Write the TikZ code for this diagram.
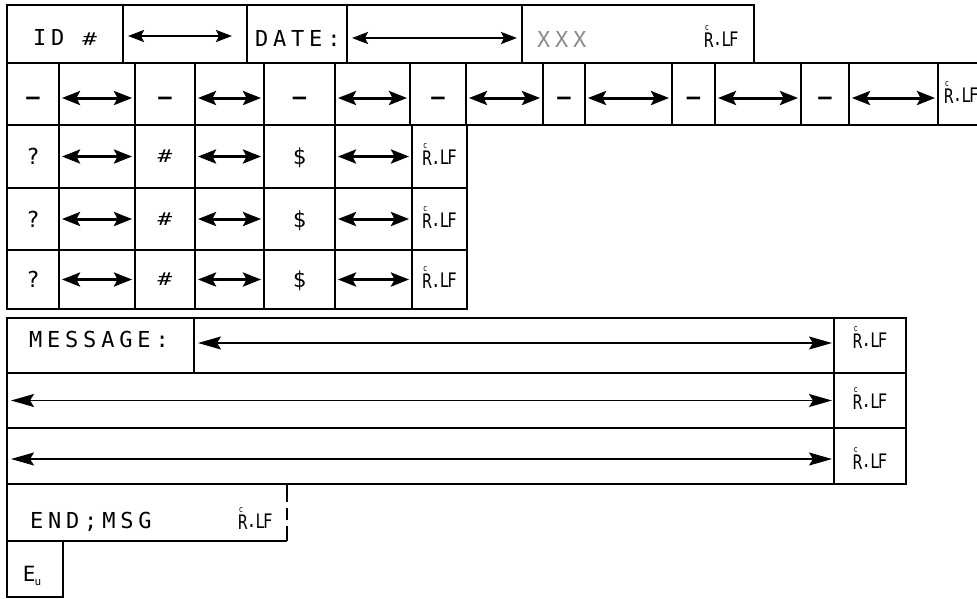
\documentclass[tikz,border=0pt]{standalone}
\usepackage{fontspec}
\usepackage{graphicx}
\usetikzlibrary{arrows.meta,calc}

% plotter-like lettering: monospaced with wide pitch
\newfontfamily\plotfont[LetterSpace=22]{DejaVu Sans Mono}
\newfontfamily\ctlfont{DejaVu Sans Mono}

% carriage return / line feed mark, built from small letters
\newcommand\crlfsym{{\ctlfont\fontsize{20}{20}\selectfont\scalebox{0.78}[1]{%
  \raisebox{-0.05em}{R}\kern-0.55em\raisebox{0.78em}{\fontsize{9}{9}\selectfont c}\kern0.25em
  \raisebox{0.02em}{.}\kern-0.05em L\kern-0.12em F}}}
% end of transmission mark
\newcommand\eotsym{{\ctlfont\fontsize{21}{21}\selectfont
  E\kern-0.05em\raisebox{-0.2em}{\fontsize{11}{11}\selectfont u}}}
\newcommand\smallhash{\scalebox{1.1}[0.8]{\#}}
\newcommand\dashmark{\scalebox{2.4}[1.5]{-}}

% one framed field: name, left, top, right, bottom
\newcommand\mkcell[5]{%
  \pgfmathsetmacro\cw{#4-#2}%
  \pgfmathsetmacro\ch{#5-#3}%
  \node[cellbox, minimum width=\cw pt, minimum height=\ch pt] (#1) at (#2,#3) {};}
\newcommand\mkblank[5]{%
  \pgfmathsetmacro\cw{#4-#2}%
  \pgfmathsetmacro\ch{#5-#3}%
  \node[cellbox, draw=none, minimum width=\cw pt, minimum height=\ch pt] (#1) at (#2,#3) {};}

\tikzset{
  cellbox/.style={draw, line width=1.8pt, inner sep=0pt, outer sep=0pt, anchor=north west},
  lbl/.style={inner sep=0pt, outer sep=0pt, font=\plotfont\fontsize{22}{22}\selectfont},
  faint/.style={lbl, text=black!45},
  headarrow/.style={{Stealth[length=16pt,width=12pt,inset=3pt]}-{Stealth[length=16pt,width=12pt,inset=3pt]},
    line width=2.4pt},
  rowarrow/.style={{Stealth[length=18pt,width=14pt,inset=3.5pt]}-{Stealth[length=18pt,width=14pt,inset=3.5pt]},
    line width=3pt, shorten <=3pt, shorten >=3pt},
  msgarrow/.style={{Stealth[length=23pt,width=13pt,inset=4pt]}-{Stealth[length=23pt,width=13pt,inset=4pt]},
    line width=1.5pt, shorten <=4pt, shorten >=2pt}
}

\begin{document}
\begin{tikzpicture}[x=1pt,y=-1pt]
\clip (0,0) rectangle (977,598);
\fill[white] (0,0) rectangle (977,598);

% ---- header line: ID, date, filler
\mkcell{h1}{7}{5}{123}{63}
\mkcell{h2}{123}{5}{247}{63}
\mkcell{h3}{247}{5}{347}{63}
\mkcell{h4}{347}{5}{522}{63}
\mkcell{h5}{522}{5}{754}{63}
\node[lbl, anchor=base west] (tid) at (33,45) {ID \smallhash};
\node[lbl, anchor=base west] (tdate) at (255,46) {DATE:};
\node[faint, anchor=base west] (txxx) at (537,47) {XXX};
\node[lbl, anchor=base west] (hlf) at (704,46) {\crlfsym};
\draw[headarrow, shorten <=5pt, shorten >=15pt] ([yshift=-2pt]h2.west) -- ([yshift=-2pt]h2.east);
\draw[headarrow, shorten <=5pt, shorten >=5pt] ([yshift=-4pt]h4.west) -- ([yshift=-4pt]h4.east);

% ---- dash / field line
\foreach \l/\r [count=\i] in {7/59,59/135,135/195,195/264,264/335,335/410,410/466,
    466/543,543/585,585/672,672/715,715/801,801/849,849/938,938/995}
  {\mkcell{d\i}{\l}{63}{\r}{125}}
\foreach \i in {1,3,...,13}
  {\node[lbl, anchor=base] (dm\i) at ([yshift=-13pt]d\i.center) {\dashmark};}
\foreach \i in {2,4,...,14}
  {\draw[rowarrow] ([yshift=-4pt]d\i.west) -- ([yshift=-4pt]d\i.east);}
\node[lbl, anchor=base west] (dlf) at (944,102) {\crlfsym};

% ---- three query lines
\foreach \t/\b [count=\j] in {125/188,188/250,250/309}{
  \foreach \l/\r [count=\i] in {7/59,59/135,135/195,195/264,264/335,335/412,412/467}
    {\mkcell{q\j c\i}{\l}{\t}{\r}{\b}}
  \node[lbl, anchor=base] (qa\j) at ([yshift=-8pt]q\j c1.center) {?};
  \node[lbl, anchor=base] (qb\j) at ([yshift=-6pt]q\j c3.center) {\smallhash};
  \node[lbl, anchor=base] (qc\j) at ([yshift=-8pt]q\j c5.center) {\$};
  \node[lbl, anchor=base] (qd\j) at ([yshift=-8pt]q\j c7.center) {\crlfsym};
  \foreach \i in {2,4,6}
    {\draw[rowarrow] (q\j c\i.west) -- (q\j c\i.east);}
}

% ---- message block
\mkcell{m1}{7}{318}{194}{373}
\mkcell{m2}{194}{318}{834}{373}
\mkcell{m3}{834}{318}{906}{373}
\mkcell{m4}{7}{373}{834}{428}
\mkcell{m5}{834}{373}{906}{428}
\mkcell{m6}{7}{428}{834}{484}
\mkcell{m7}{834}{428}{906}{484}
\node[lbl, anchor=base west] (tmsg) at (29,347) {MESSAGE:};
\node[lbl, anchor=base] (mlf1) at (870,347) {\crlfsym};
\node[lbl, anchor=base] (mlf2) at (870,408) {\crlfsym};
\node[lbl, anchor=base] (mlf3) at (870,468) {\crlfsym};
\draw[msgarrow] ([yshift=2.5pt]m2.west) -- ([yshift=2.5pt]m2.east);
\draw[msgarrow] ([yshift=0pt]m4.west) -- ([yshift=0pt]m4.east);
\draw[msgarrow] ([yshift=-3pt]m6.west) -- ([yshift=-3pt]m6.east);

% ---- end of message and end of transmission
\mkblank{e1}{7}{484}{287}{541}
\draw[line width=1.8pt] (e1.north east) -- (e1.north west) -- (e1.south west) -- (e1.south east);
\draw[line width=1.8pt, dash pattern=on 18pt off 6pt on 12pt off 6pt on 20pt] (e1.north east) -- (e1.south east);
\node[lbl, anchor=base west] (tend) at (30,528) {END;MSG};
\node[lbl, anchor=base west] (elf) at (238,528) {\crlfsym};
\mkcell{e2}{7}{541}{63}{597}
\node[lbl, anchor=base west] (teot) at (23,581) {\eotsym};
\end{tikzpicture}
\end{document}
